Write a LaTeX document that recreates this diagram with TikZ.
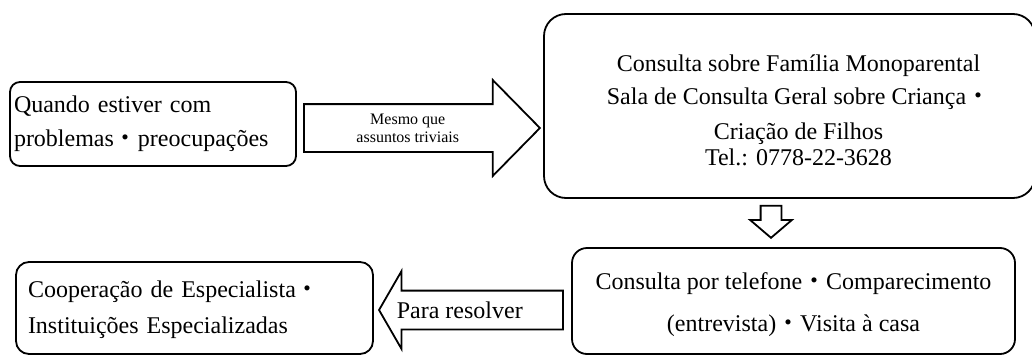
\documentclass[tikz,border=0pt]{standalone}
\usepackage{fontspec}
\setmainfont{Liberation Serif}
\newfontfamily\cjk{Noto Sans CJK JP}
\usepackage{tikz}
\usetikzlibrary{shapes.arrows, calc}
\newcommand{\nkg}{{\cjk ・}}
\tikzstyle{roundbox} = [draw, line width=1.8pt, inner sep=0pt]
\tikzstyle{fatarrow} = [single arrow, draw, fill=white, line width=1.8pt, inner xsep=0pt, single arrow head indent=0pt]

\begin{document}
\begin{tikzpicture}[x=1pt, y=-1pt]
\useasboundingbox (0,0) rectangle (1032,356);

\node[roundbox, rounded corners=10pt, minimum width=286pt, minimum height=84pt, text width=278pt, align=left, font=\fontsize{24}{34}\selectfont] (trouble) at (153,124) {Quando estiver com\\problemas\nkg preocupações};
\node[roundbox, rounded corners=22pt, minimum width=491pt, minimum height=184pt] (consult) at (789.5,106) {};
\node[align=center, inner sep=0pt, font=\fontsize{24}{33}\selectfont] (consulttext) at ([xshift=9pt]consult.center) {\rule{0pt}{25pt}Consulta sobre Família Monoparental\\Sala de Consulta Geral sobre Criança\nkg\\[2pt]Criação de Filhos\\[-7pt]Tel.: 0778-22-3628};
\node[roundbox, rounded corners=15pt, minimum width=443pt, minimum height=106pt, align=center, font=\fontsize{24}{42}\selectfont] (method) at (793.5,301) {\rule{0pt}{24pt}Consulta por telefone\nkg Comparecimento\\(entrevista)\nkg Visita à casa};
\node[roundbox, rounded corners=13pt, minimum width=357pt, minimum height=92pt, text width=333pt, align=left, font=\fontsize{24}{36}\selectfont] (expert) at (194.5,308) {\rule{0pt}{21pt}Cooperação de Especialista\nkg\\Instituições Especializadas};

\node[fatarrow, minimum height=236pt, inner ysep=23pt, single arrow head extend=24pt, single arrow tip angle=91, anchor=tail] (share) at (303,128) {};
\node[fatarrow, minimum height=32pt, inner ysep=0pt, inner xsep=9.5pt, single arrow head extend=10.5pt, single arrow tip angle=99, shape border rotate=270, anchor=tip] (down) at (771,239) {};
\node[fatarrow, minimum height=184pt, inner ysep=18.5pt, single arrow head extend=19.5pt, single arrow tip angle=120, shape border rotate=180, anchor=tip] (resolve) at (378,310) {};

\node[align=center, font=\fontsize{16}{18}\selectfont] (trivial) at ($(share.tail)!0.44!(share.tip)$) {Mesmo que\\assuntos triviais};
\node[font=\fontsize{24}{28}\selectfont] (solve) at ($(resolve.tip)!0.44!(resolve.tail)$) {Para resolver};
\end{tikzpicture}
\end{document}
